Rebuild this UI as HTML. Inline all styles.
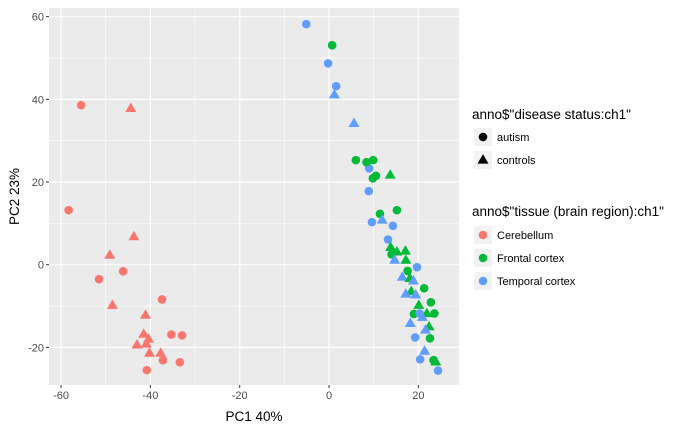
<!DOCTYPE html>
<html><head><meta charset="utf-8"><style>
body{margin:0;background:#fff;font-family:"Liberation Sans",Arial,sans-serif}
svg{display:block}
</style></head><body>
<svg id="chart" width="700" height="432" xmlns="http://www.w3.org/2000/svg"></svg>
<script>
const tissues = ["Cerebellum","Frontal cortex","Temporal cortex"];
const tissueColors = ["#F8766D","#00BA38","#619CFF"];
const statuses = ["autism","controls"];
const xTicks = [-60,-40,-20,0,20];
const yTicks = [-20,0,20,40,60];
// each point: [PC1, PC2, tissueIndex, statusIndex(0 autism circle,1 control triangle)]
const pc1 = [-55.5,-58.3,-46.1,-51.5,-37.4,-35.3,-32.9,-37.2,-33.4,-40.8,
 -44.4,-43.7,-49.1,-48.5,-41.1,-41.5,-40.4,-43.0,-40.9,-40.2,-37.7,
 -5.1,-0.2,1.6,9.0,8.9,1.2,5.6,
 0.7,6.0,8.4,9.9,10.5,9.8,13.7,
 15.2,11.4,9.6,11.9,14.3,13.2,13.8,14.0,15.2,17.1,14.7,17.2,19.7,17.6,16.4,18.1,18.9,21.3,18.4,17.2,19.4,22.8,20.1,19.0,21.9,23.6,20.3,20.9,18.2,22.4,21.6,22.6,19.3,21.4,20.4,23.4,23.9,24.4];
const pc2 = [38.6,13.2,-1.6,-3.5,-8.4,-16.9,-17.1,-23.1,-23.6,-25.5,
 37.8,6.8,2.3,-9.8,-12.2,-16.8,-18.0,-19.4,-19.2,-21.4,-21.4,
 58.2,48.7,43.2,23.3,17.8,41.1,34.2,
 53.1,25.3,24.8,25.3,21.5,20.9,21.7,
 13.2,12.3,10.3,10.8,9.4,6.1,4.2,2.5,3.1,3.3,1.1,1.1,-0.6,-1.5,-3.0,-3.3,-3.9,-5.7,-6.5,-7.1,-7.3,-9.1,-9.8,-11.9,-11.8,-11.8,-11.8,-12.7,-14.2,-15.0,-15.8,-17.8,-17.6,-20.9,-22.9,-23.1,-23.5,-25.6];
const tissueIdx = [0,0,0,0,0,0,0,0,0,0, 0,0,0,0,0,0,0,0,0,0,0,
 2,2,2,2,2,2,2, 1,1,1,1,1,1,1,
 1,1,2,2,2,2,1,1,1,1,2,1,2,1,2,1,2,1,1,2,2,1,1,1,1,1,2,2,2,1,2,1,2,2,2,1,1,2];
const statusIdx = [0,0,0,0,0,0,0,0,0,0, 1,1,1,1,1,1,1,1,1,1,1,
 0,0,0,0,0,1,1, 0,0,0,0,0,0,1,
 0,0,0,1,0,0,1,0,1,1,1,1,0,0,1,1,1,0,1,1,1,0,1,0,1,0,0,1,1,1,1,0,0,1,0,0,1,0];

const NS="http://www.w3.org/2000/svg";
const svg=document.getElementById('chart');
const P={l:49,r:459,t:8,b:385};
const xmin=-62.7,xmax=29.1,ymin=-29.1,ymax=62.1;
const sx=v=>P.l+(v-xmin)/(xmax-xmin)*(P.r-P.l);
const sy=v=>P.b-(v-ymin)/(ymax-ymin)*(P.b-P.t);
function mk(t,a,parent){const e=document.createElementNS(NS,t);for(const k in a)e.setAttribute(k,a[k]);(parent||svg).appendChild(e);return e;}

const bg=mk('rect',{x:P.l,y:P.t,width:P.r-P.l,height:P.b-P.t,fill:'#EBEBEB'});


// minor grid
for(let i=0;i<xTicks.length-1;i++){const v=(xTicks[i]+xTicks[i+1])/2;const l=mk('line',{x1:sx(v),x2:sx(v),y1:P.t,y2:P.b,stroke:'#fff','stroke-width':0.6});}
for(let i=0;i<yTicks.length-1;i++){const v=(yTicks[i]+yTicks[i+1])/2;const l=mk('line',{x1:P.l,x2:P.r,y1:sy(v),y2:sy(v),stroke:'#fff','stroke-width':0.6});}
{const v=xTicks[xTicks.length-1]+10;const l=mk('line',{x1:sx(v),x2:sx(v),y1:P.t,y2:P.b,stroke:'#fff','stroke-width':0.6});}
xTicks.forEach(v=>{
 const g=mk('line',{x1:sx(v),x2:sx(v),y1:P.t,y2:P.b,stroke:'#fff','stroke-width':1.2});
 
 
 const tk=mk('line',{x1:sx(v),x2:sx(v),y1:P.b,y2:P.b+3,stroke:'#333','stroke-width':1});
 
 
 const t=mk('text',{x:sx(v),y:P.b+14,'text-anchor':'middle','font-size':11,fill:'#4D4D4D'});t.textContent=v;
 
 
});
yTicks.forEach(v=>{
 const g=mk('line',{x1:P.l,x2:P.r,y1:sy(v),y2:sy(v),stroke:'#fff','stroke-width':1.2});
 
 
 const tk=mk('line',{x1:P.l-3,x2:P.l,y1:sy(v),y2:sy(v),stroke:'#333','stroke-width':1});
 
 
 const t=mk('text',{x:P.l-5,y:sy(v)+4,'text-anchor':'end','font-size':11,fill:'#4D4D4D'});t.textContent=v;
 
 
});
function shape(cx,cy,st,col,parent){
 if(st===0) return mk('circle',{cx:cx,cy:cy,r:4.3,fill:col},parent);
 const h=9.5,w=11;
 return mk('polygon',{points:`${cx},${cy-h*0.62} ${cx-w/2},${cy+h*0.38} ${cx+w/2},${cy+h*0.38}`,fill:col},parent);
}
pc1.forEach((x,i)=>{
 const e=shape(sx(x),sy(pc2[i]),statusIdx[i],tissueColors[tissueIdx[i]]);
 
 
});
const xt=mk('text',{x:(P.l+P.r)/2,y:421,'text-anchor':'middle','font-size':13.5,fill:'#000'});xt.textContent='PC1 40%';


const yt=mk('text',{x:0,y:0,'text-anchor':'middle','font-size':13.5,fill:'#000',transform:`translate(19,${(P.t+P.b)/2}) rotate(-90)`});yt.textContent='PC2 23%';


// legends
const lt1=mk('text',{x:472,y:119,'font-size':13.5,fill:'#000'});lt1.textContent='anno$"disease status:ch1"';


statuses.forEach((s,i)=>{
 const y=137+i*23;
 const k=mk('rect',{x:474,y:y-9,width:18,height:18,fill:'#F2F2F2'});
 
 
 const m=shape(483,y,i,'#000');
 
 
 const t=mk('text',{x:497,y:y+4,'font-size':11,fill:'#000'});t.textContent=s;
 
 
});
const lt2=mk('text',{x:472,y:216,'font-size':13.5,fill:'#000'});lt2.textContent='anno$"tissue (brain region):ch1"';


tissues.forEach((s,i)=>{
 const y=235+i*23;
 const k=mk('rect',{x:474,y:y-9,width:18,height:18,fill:'#F2F2F2'});
 
 
 const m=shape(483,y,0,tissueColors[i]);
 
 
 const t=mk('text',{x:497,y:y+4,'font-size':11,fill:'#000'});t.textContent=s;
 
 
});
</script>
</body></html>
